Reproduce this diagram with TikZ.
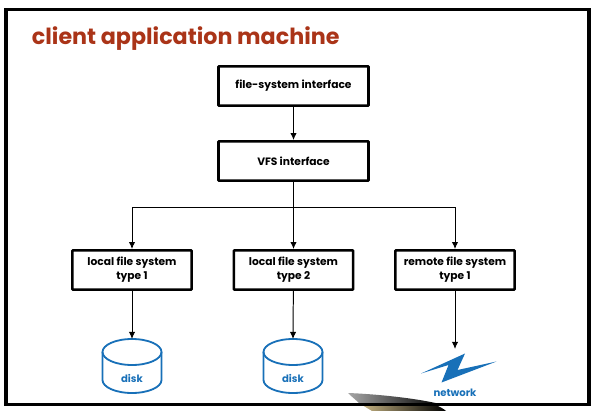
\documentclass[tikz,border=0pt]{standalone}
\usepackage{fontspec}
\setmainfont{Poppins}
\usetikzlibrary{arrows.meta}
\definecolor{titlered}{RGB}{170,52,24}
\definecolor{diskblue}{RGB}{24,112,184}
\definecolor{smudgetan}{RGB}{196,178,130}
\tikzset{
    layerbox/.style={draw, line width=1.9pt, rounded corners=0.5pt, minimum height=0.98cm, align=center, font=\fontsize{7.6}{9.8}\selectfont\bfseries},
    topbox/.style={layerbox, minimum width=3.75cm},
    lowbox/.style={layerbox, minimum width=2.98cm},
    bluelabel/.style={text=diskblue, font=\fontsize{7.2}{9}\selectfont\bfseries},
    feed/.style={line width=0.7pt, -{Latex[length=5pt,width=4.5pt]}}
}
\begin{document}
\begin{tikzpicture}[x=0.025cm,y=-0.025cm]
        \useasboundingbox (0,0) rectangle (596,411);
        % smudge round the frame
        \shade[left color=black!35, right color=black] (348,393) .. controls (375,394) and (415,398) .. (440,404) -- (360,404) .. controls (356,400) and (352,397) .. (348,393);
        \shade[left color=smudgetan, right color=black] (362,405) -- (436,405) .. controls (440,407) and (444,409) .. (446,411) -- (372,411) -- cycle;
        % frame
        \draw[line width=2.6pt] (6,9.5) rectangle (589,404.5);
        \node[text=titlered, anchor=west, font=\fontsize{15.8}{20}\selectfont\bfseries] (title) at (27,39) {client application machine};
        % boxes
        \node[topbox] (fsi) at (293.5,86) {file-system interface};
        \node[topbox] (vfs) at (293.5,161) {VFS interface};
        \node[lowbox] (lfsa) at (132,270) {local file system\\type 1};
        \node[lowbox] (lfsb) at (293.5,270) {local file system\\type 2};
        \node[lowbox] (rfs) at (455,270) {remote file system\\type 1};
        \coordinate (split) at (293.5,207);
        % disks
        \foreach \name/\cx in {diska/132,diskb/293} {
            \draw[diskblue, line width=1.3pt] (\cx,352) ellipse (29.5 and 13);
            \draw[diskblue, line width=1.3pt] (\cx-29.5,352) -- (\cx-29.5,380) arc(180:0:29.5 and 13) -- (\cx+29.5,352);
            \node[bluelabel] (\name) at (\cx,378) {disk};
            \coordinate (\name top) at (\cx,339);
        }
        % network
        \fill[diskblue] (421,373.5) -- (465,353.5) -- (457.5,370) -- (496.5,361.5) -- (441.5,382.5) -- (448.5,365) -- cycle;
        \node[bluelabel] (net) at (455,393) {network};
        \coordinate (nettop) at (455,349);
        % connectors
        \draw[feed] (fsi) -- (vfs);
        \draw[feed] (vfs) -- (lfsb);
        \draw[feed] (split) -| (lfsa);
        \draw[feed] (split) -| (rfs);
        \draw[feed] (lfsa) -- (diskatop);
        \draw[feed] (lfsb) -- (diskbtop);
        \draw[feed] (rfs) -- (nettop);
\end{tikzpicture}
\end{document}
